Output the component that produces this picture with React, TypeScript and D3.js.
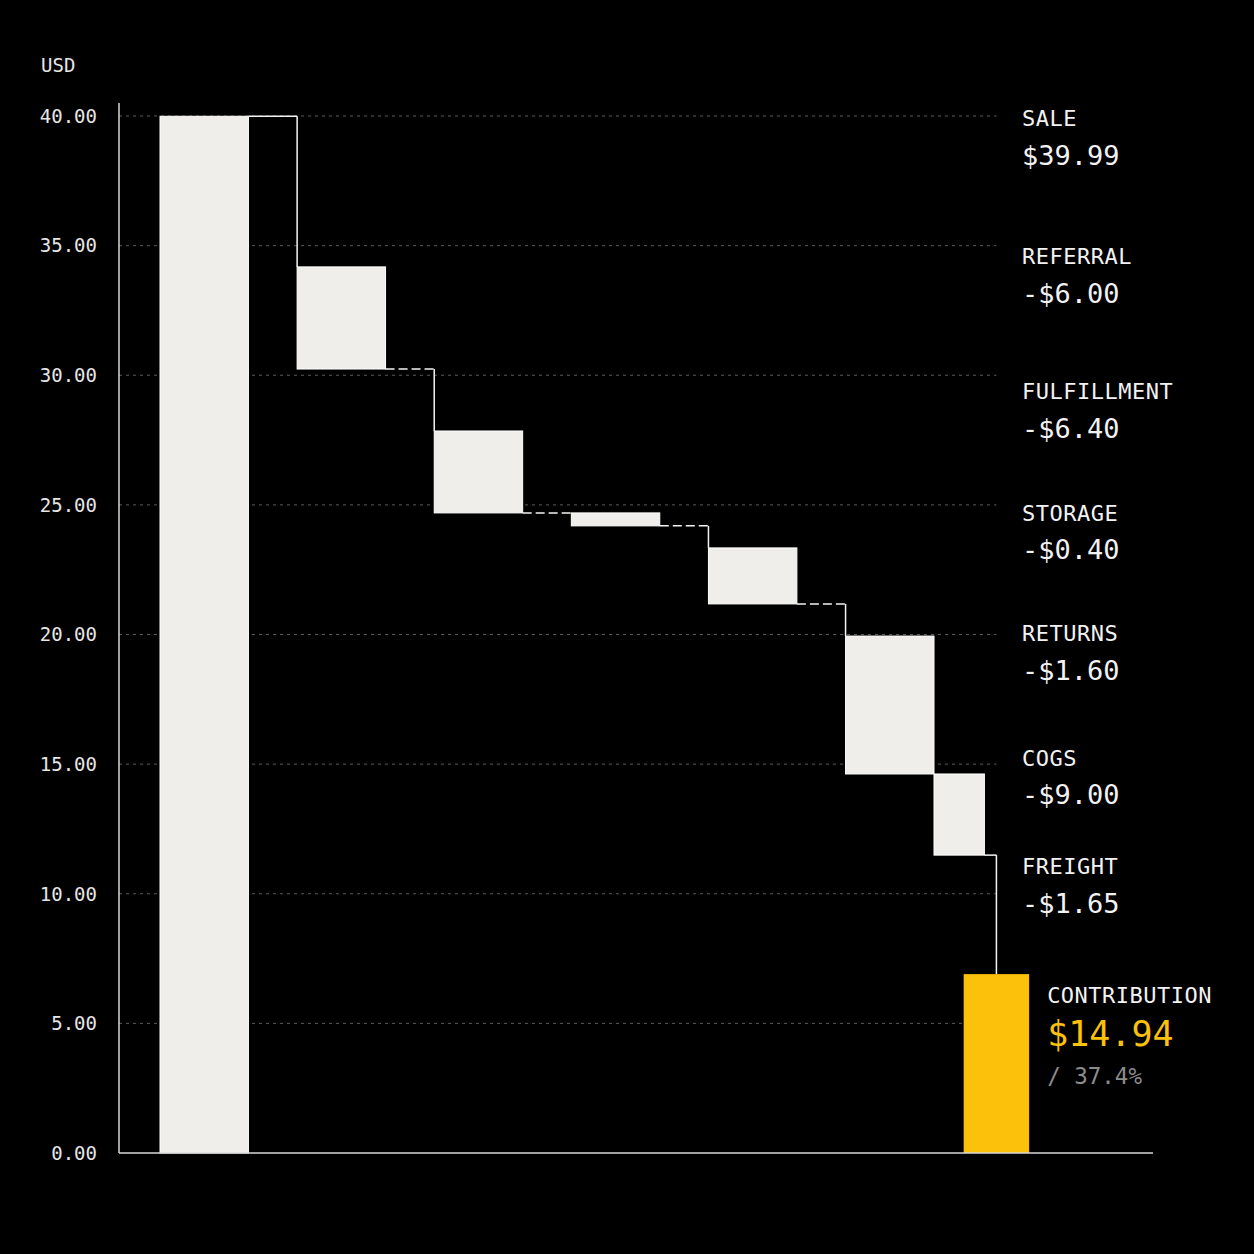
import { useEffect, useRef } from "react";
import * as d3 from "d3";

// waterfall steps, top to bottom of the cost stack
const categories = ["SALE", "REFERRAL", "FULFILLMENT", "STORAGE", "RETURNS", "COGS", "FREIGHT", "CONTRIBUTION"];
const amountLabels = ["$39.99", "-$6.00", "-$6.40", "-$0.40", "-$1.60", "-$9.00", "-$1.65", "$14.94"];
const barHigh = [39.99, 34.18, 27.85, 24.69, 23.34, 19.94, 14.62, 6.9];
const barLow = [0, 30.24, 24.69, 24.19, 21.18, 14.62, 11.49, 0];
// value on the y axis that each right-hand label sits beside
const labelAt = [39.92, 34.6, 29.4, 24.7, 20.05, 15.25, 11.05, 6.1];
const marginShare = "/ 37.4%";
const yTicks = [0, 5, 10, 15, 20, 25, 30, 35, 40];
const unitLabel = "USD";

const W = 1254;
const H = 1254;
const FONT = "'DejaVu Sans Mono', 'Liberation Mono', monospace";
const BAR = "#efeeea";
const GOLD = "#fbc10b";

export default function App() {
  const ref = useRef<SVGSVGElement | null>(null);

  useEffect(() => {
    document.body.style.margin = "0";
    document.body.style.background = "#000";

    const svg = d3.select(ref.current);
    svg.selectAll("*").remove();
    svg.append("rect").attr("width", W).attr("height", H).attr("fill", "#000");

    const left = 119;
    const bottom = 1153;
    const right = 1153;
    const y = d3.scaleLinear().domain([0, 40]).range([bottom, 116]);

    // first six steps share an even band layout
    const main = categories.slice(0, 6);
    const x = d3.scaleBand<string>().domain(main).range([160, 934]).paddingInner(0.355).paddingOuter(0);
    const bw = x.bandwidth();
    const freightX = (x("COGS") as number) + bw;
    const freightW = bw * 0.57;
    const contribCx = freightX + freightW + 12;
    const contribW = bw * 0.74;

    const barX0 = categories.map((c, i) =>
      i < 6 ? (x(c) as number) : i === 6 ? freightX : contribCx - contribW / 2
    );
    const barW = categories.map((_, i) => (i < 6 ? bw : i === 6 ? freightW : contribW));

    const gridEnd = contribCx;

    // gridlines
    svg.append("g")
      .selectAll("line")
      .data(yTicks.filter((t) => t > 0))
      .enter()
      .append("line")
      .attr("x1", left)
      .attr("x2", gridEnd)
      .attr("y1", (d) => y(d))
      .attr("y2", (d) => y(d))
      .attr("stroke", "#5a5a5a")
      .attr("stroke-width", 1)
      .attr("stroke-dasharray", "3 4");

    // tick labels
    svg.append("g")
      .selectAll("text")
      .data(yTicks)
      .enter()
      .append("text")
      .attr("x", 97)
      .attr("y", (d) => y(d))
      .attr("dy", "0.36em")
      .attr("text-anchor", "end")
      .attr("fill", "#e6e6e6")
      .attr("font-family", FONT)
      .attr("font-size", 19)
      .text((d) => d3.format(".2f")(d));

    svg.append("text")
      .attr("x", 41)
      .attr("y", 72)
      .attr("fill", "#e6e6e6")
      .attr("font-family", FONT)
      .attr("font-size", 19)
      .text(unitLabel);

    // bars
    svg.append("g")
      .selectAll("rect")
      .data(categories)
      .enter()
      .append("rect")
      .attr("x", (_, i) => barX0[i])
      .attr("width", (_, i) => barW[i])
      .attr("y", (_, i) => y(barHigh[i]))
      .attr("height", (_, i) => y(barLow[i]) - y(barHigh[i]))
      .attr("fill", (_, i) => (i === categories.length - 1 ? GOLD : BAR))
      .attr("stroke", (_, i) => (i === categories.length - 1 ? "none" : "#ffffff"))
      .attr("stroke-width", 1);

    // connectors: across at the running level, then down to the next bar's top
    const conn = svg.append("g").attr("fill", "none").attr("stroke", "#f4f4f4").attr("stroke-width", 1.5);
    categories.slice(0, -1).forEach((_, i) => {
      const level = i === 0 ? barHigh[0] : barLow[i];
      const x1 = barX0[i] + barW[i];
      const last = i + 1 === categories.length - 1;
      const x2 = last ? contribCx : barX0[i + 1];
      const nextTop = barHigh[i + 1];
      if (x2 - x1 > 0.5) {
        conn.append("line")
          .attr("x1", x1).attr("x2", x2)
          .attr("y1", y(level)).attr("y2", y(level))
          .attr("stroke-dasharray", i === 0 || last ? null : "9 4");
      }
      if (Math.abs(level - nextTop) > 0.01) {
        conn.append("line")
          .attr("x1", x2).attr("x2", x2)
          .attr("y1", y(level)).attr("y2", y(nextTop));
      }
    });

    // axes
    svg.append("line")
      .attr("x1", left).attr("x2", left)
      .attr("y1", y(40.5)).attr("y2", bottom)
      .attr("stroke", "#d8d8d8").attr("stroke-width", 1.5);
    svg.append("line")
      .attr("x1", left).attr("x2", right)
      .attr("y1", bottom).attr("y2", bottom)
      .attr("stroke", "#d8d8d8").attr("stroke-width", 1.5);

    // right-hand labels
    const labelX = 1022;
    const contribLabelX = barX0[7] + barW[7] + 18;
    const lab = svg.append("g").attr("font-family", FONT);
    categories.forEach((c, i) => {
      const isLast = i === categories.length - 1;
      const lx = isLast ? contribLabelX : labelX;
      const cy = y(labelAt[i]);
      lab.append("text")
        .attr("x", lx)
        .attr("y", cy)
        .attr("dy", "0.36em")
        .attr("fill", "#f2f2f2")
        .attr("font-size", 22)
        .attr("letter-spacing", 0.5)
        .text(c);
      lab.append("text")
        .attr("x", lx)
        .attr("y", cy + (isLast ? 39 : 37))
        .attr("dy", "0.36em")
        .attr("fill", isLast ? GOLD : "#f2f2f2")
        .attr("font-size", isLast ? 35 : 27)
        .text(amountLabels[i]);
      if (isLast) {
        lab.append("text")
          .attr("x", lx)
          .attr("y", cy + 81)
          .attr("dy", "0.36em")
          .attr("fill", "#8c8c8c")
          .attr("font-size", 22.5)
          .text(marginShare);
      }
    });
  }, []);

  return <svg ref={ref} width={W} height={H} style={{ display: "block" }}></svg>;
}
